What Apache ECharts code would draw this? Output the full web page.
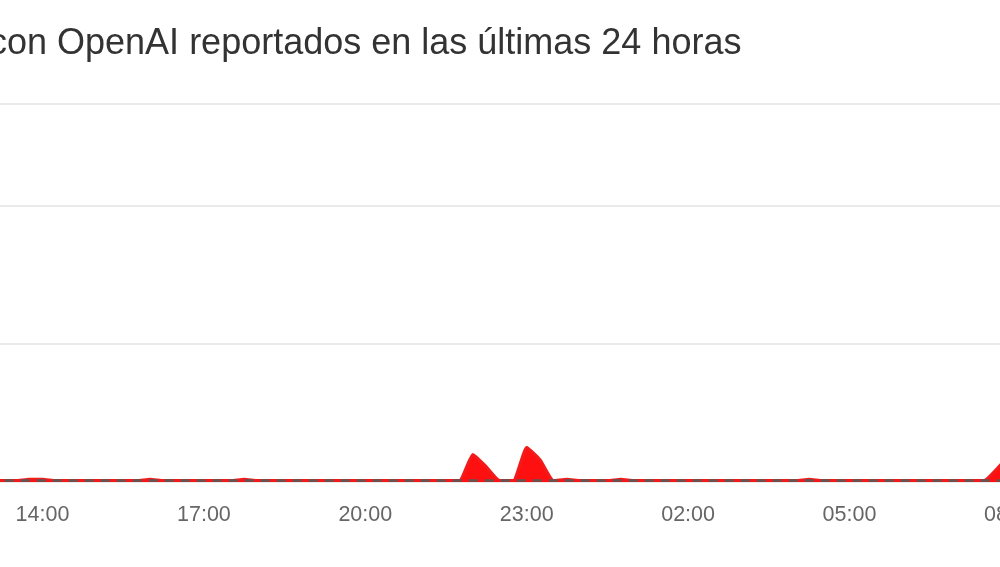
<!DOCTYPE html>
<html>
<head>
<meta charset="utf-8">
<script src="https://cdn.jsdelivr.net/npm/echarts@6/dist/echarts.min.js"></script>
<style>
    html, body { margin: 0; padding: 0; background: #fff; }
    #mainChartBlock { width: 1000px; height: 567px; }
</style>
</head>
<body>
<div id="mainChartBlock"></div>
<script>
// informes cada 15 minutos
var times = [
    "13:00", "13:15", "13:30", "13:45",
    "14:00", "14:15", "14:30", "14:45",
    "15:00", "15:15", "15:30", "15:45",
    "16:00", "16:15", "16:30", "16:45",
    "17:00", "17:15", "17:30", "17:45",
    "18:00", "18:15", "18:30", "18:45",
    "19:00", "19:15", "19:30", "19:45",
    "20:00", "20:15", "20:30", "20:45",
    "21:00", "21:15", "21:30", "21:45",
    "22:00", "22:15", "22:30", "22:45",
    "23:00", "23:15", "23:30", "23:45",
    "00:00", "00:15", "00:30", "00:45",
    "01:00", "01:15", "01:30", "01:45",
    "02:00", "02:15", "02:30", "02:45",
    "03:00", "03:15", "03:30", "03:45",
    "04:00", "04:15", "04:30", "04:45",
    "05:00", "05:15", "05:30", "05:45",
    "06:00", "06:15", "06:30", "06:45",
    "07:00", "07:15", "07:30", "07:45",
    "08:00", "08:15"
];
var reports = [
    1, 1, 1, 2,
    2, 1, 1, 1,
    1, 1, 1, 1,
    2, 1, 1, 1,
    1, 1, 1, 2,
    1, 1, 1, 1,
    1, 1, 1, 1,
    1, 1, 1, 1,
    1, 1, 1, 1,
    20, 11, 1, 1,
    25, 16, 1, 2,
    1, 1, 1, 2,
    1, 1, 1, 1,
    1, 1, 1, 1,
    1, 1, 1, 1,
    1, 2, 1, 1,
    1, 1, 1, 1,
    1, 1, 1, 1,
    1, 1, 1, 10,
    20, 25
];
var baseline = [
    1, 1, 1, 1, 1, 1, 1, 1, 1, 1, 1, 1, 1,
    1, 1, 1, 1, 1, 1, 1, 1, 1, 1, 1, 1, 1,
    1, 1, 1, 1, 1, 1, 1, 1, 1, 1, 1, 1, 1,
    1, 1, 1, 1, 1, 1, 1, 1, 1, 1, 1, 1, 1,
    1, 1, 1, 1, 1, 1, 1, 1, 1, 1, 1, 1, 1,
    1, 1, 1, 1, 1, 1, 1, 1, 1, 1, 1, 1, 1
];
var titleText = "con OpenAI reportados en las últimas 24 horas";

// hora "HH:MM" -> horas desde las 14:00
function toHours(t) {
    var p = t.split(":");
    var h = parseInt(p[0], 10) + parseInt(p[1], 10) / 60 - 14;
    if (h < -2) h += 24;
    return h;
}
function hourLabel(v) {
    var h = ((v + 14) % 24 + 24) % 24;
    return (h < 10 ? "0" : "") + h + ":00";
}

var reportData = [];
var baseData = [];
for (var i = 0; i < times.length; i++) {
    reportData.push([toHours(times[i]), reports[i]]);
    baseData.push([toHours(times[i]), baseline[i]]);
}

var myChart = echarts.init(document.getElementById('mainChartBlock'));
var option = {
    animation: false,
    textStyle: { fontFamily: "'Liberation Sans', Arial, sans-serif" },
    title: {
        text: titleText,
        left: -16,
        top: 21,
        textStyle: {
            fontSize: 36,
            fontWeight: 'normal',
            color: '#333',
            fontFamily: "'Liberation Sans', Arial, sans-serif"
        }
    },
    grid: {
        left: -118.9,
        right: -172.3,
        top: 104,
        bottom: 85,
        containLabel: false,
        outerBoundsMode: 'none'
    },
    xAxis: {
        type: 'value',
        min: -3,
        max: 21,
        interval: 3,
        axisLine: { show: false },
        axisTick: { show: false },
        splitLine: { show: false },
        axisLabel: {
            formatter: hourLabel,
            color: '#666',
            fontSize: 21.5,
            margin: 22
        }
    },
    yAxis: {
        type: 'value',
        min: 0,
        max: 274,
        interval: 100,
        axisLine: { show: false },
        axisTick: { show: false },
        axisLabel: { show: false },
        splitLine: { lineStyle: { color: '#e3e3e3', width: 1.5 } }
    },
    series: [
        {
            name: 'Informes',
            type: 'line',
            data: reportData,
            symbol: 'none',
            smooth: 0.15,
            lineStyle: { color: '#f21b1b', width: 3 },
            areaStyle: { color: '#ff1010', opacity: 1 },
            z: 2
        },
        {
            name: 'Base',
            type: 'line',
            data: baseData,
            symbol: 'none',
            lineStyle: { color: '#5f5656', width: 2.5, type: [9, 7] },
            z: 3
        }
    ]
};
myChart.setOption(option);
</script>
</body>
</html>
